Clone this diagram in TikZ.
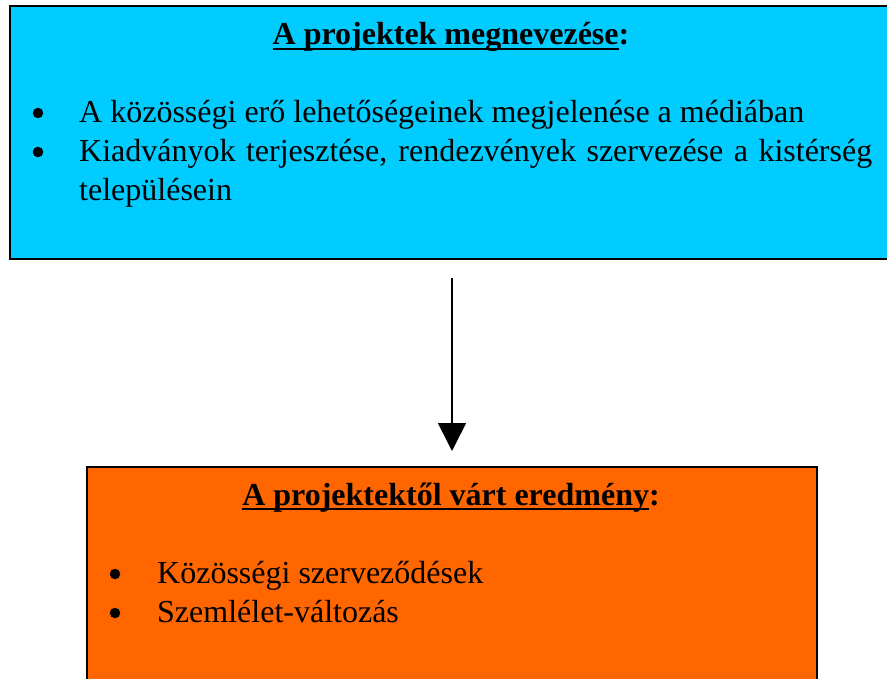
\documentclass[tikz,border=0pt]{standalone}
\usepackage{fontspec}
\setmainfont{Liberation Serif}
\usetikzlibrary{arrows.meta}
\definecolor{boxcyan}{HTML}{00CCFF}
\definecolor{boxorange}{HTML}{FF6600}
\newcommand{\ulbar}[1]{\setbox0=\hbox{#1}\rlap{\rule[-5pt]{\wd0}{1.8pt}}\box0}
\tikzset{
  panel/.style={draw=black, line width=2.3pt},
  txt/.style={inner sep=0pt, anchor=base west, font=\fontsize{32}{39}\selectfont},
  ttl/.style={inner sep=0pt, anchor=base, font=\fontsize{32}{39}\selectfont\bfseries},
  dot/.style={circle, fill=black, inner sep=0pt, minimum size=10.5pt},
  flow/.style={line width=1.6pt, -{Triangle[width=28pt,length=28pt]}}
}
\begin{document}
\begin{tikzpicture}[x=1pt,y=-1pt]
\useasboundingbox (0,0) rectangle (887,679);
\clip (0,0) rectangle (887,679);
% top box
\draw[panel, fill=boxcyan] (10,6) rectangle (900,259);
\node[ttl] (t1) at (451,45) {\ulbar{A projektek megnevezése}:};
\node[dot] (b1) at (38,113) {};
\node[txt] (l1) at (79,122.7) {A közösségi erő lehetőségeinek megjelenése a médiában};
\node[dot] (b2) at (38,152) {};
\node[txt] (l2) at (79,161.7) {\makebox[793pt][s]{Kiadványok terjesztése, rendezvények szervezése a kistérség}};
\node[txt] (l3) at (79,200.5) {településein};
% arrow
\coordinate (a1) at (452,278);
\coordinate (a2) at (452,451);
\draw[flow] (a1) -- (a2);
% bottom box
\draw[panel, fill=boxorange] (87,467) rectangle (817,700);
\node[ttl] (t2) at (451,505) {\ulbar{A projektektől várt eredmény}:};
\node[dot] (b3) at (115,574) {};
\node[txt] (m1) at (157,583.5) {Közösségi szerveződések};
\node[dot] (b4) at (115,613) {};
\node[txt] (m2) at (157,622.7) {Szemlélet-változás};
\end{tikzpicture}
\end{document}
